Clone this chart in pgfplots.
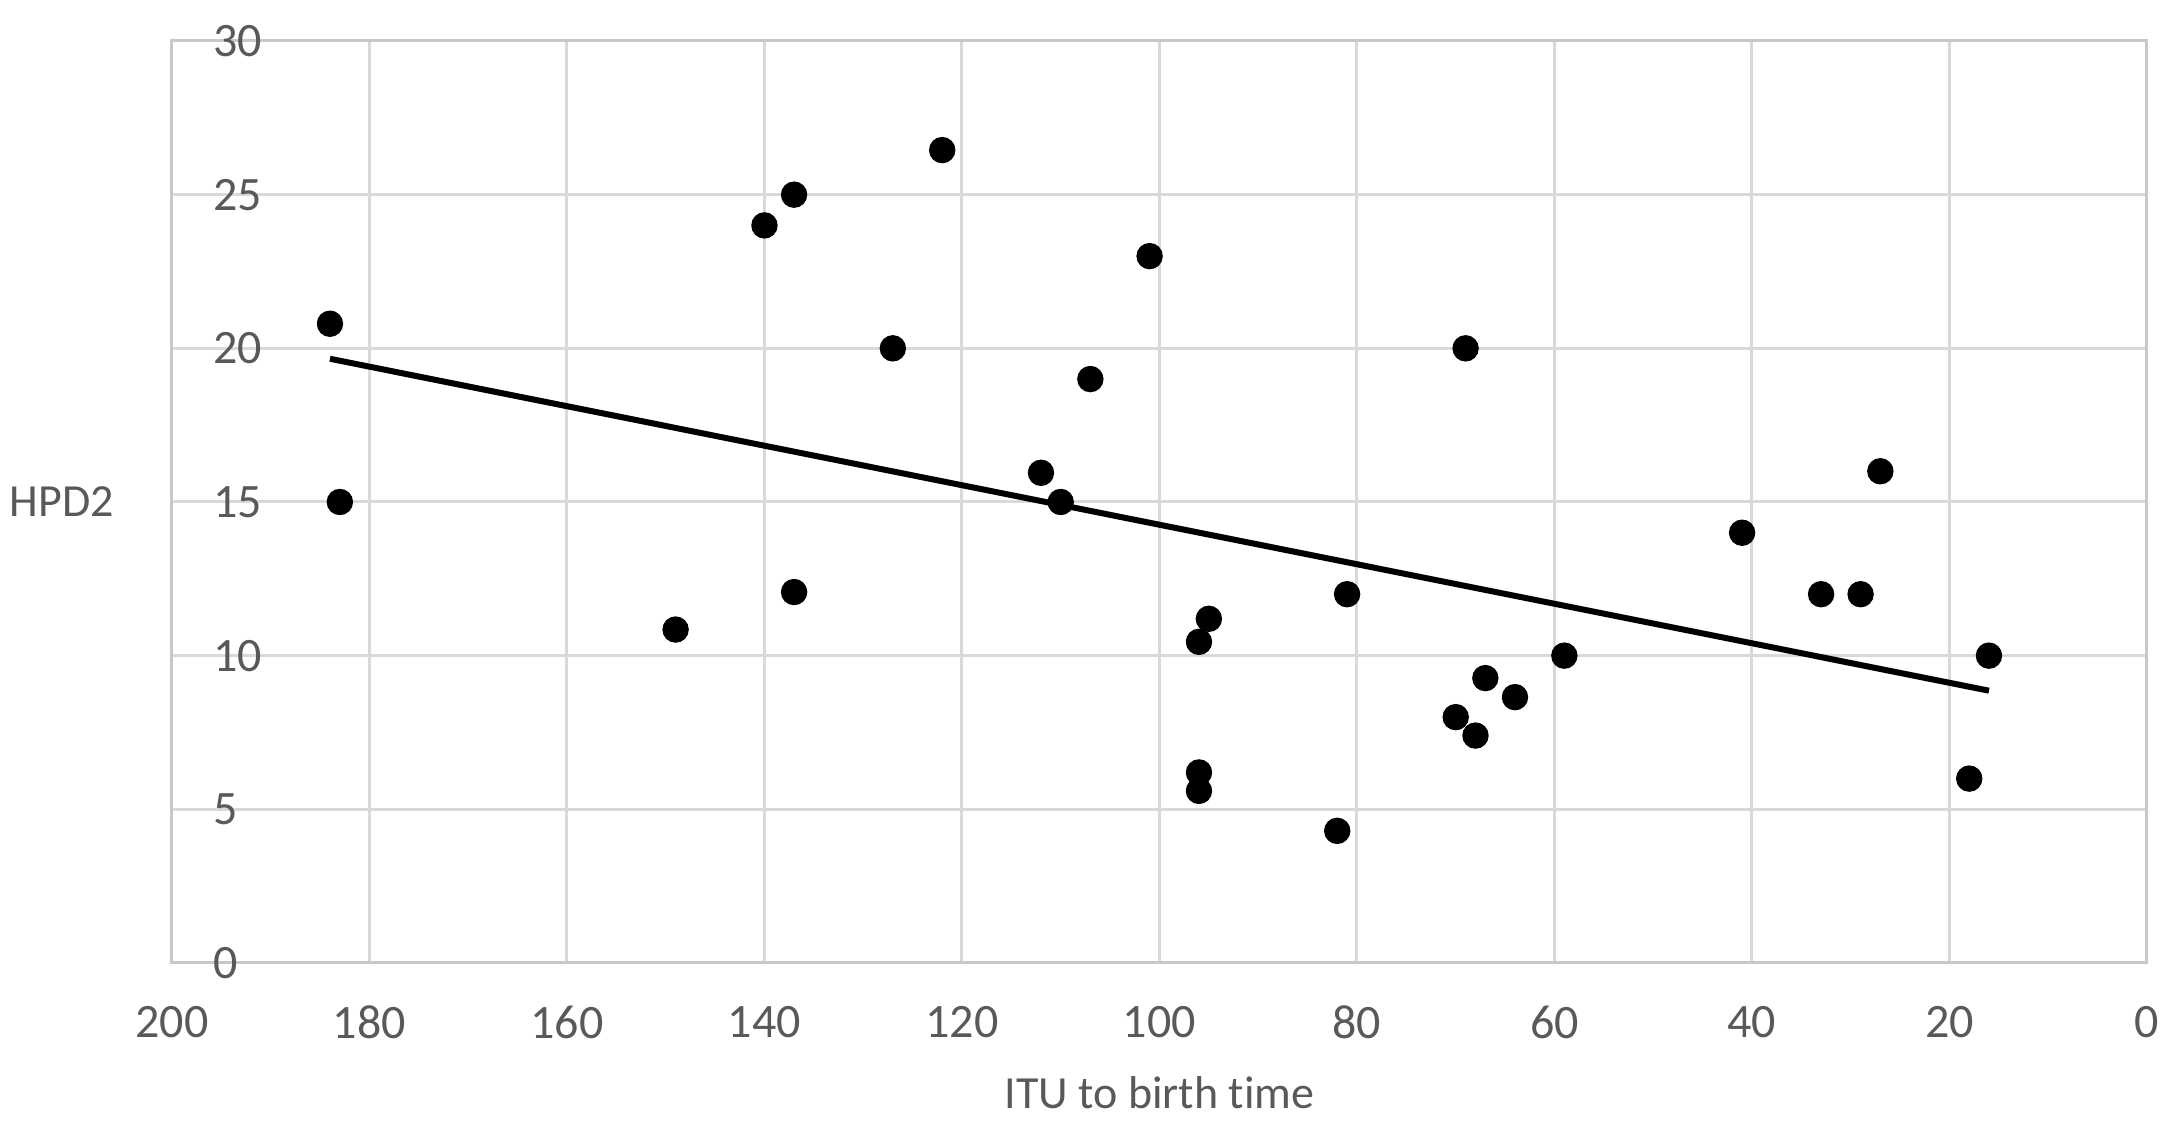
\documentclass[border=0pt]{standalone}
\usepackage{fontspec}
\setmainfont{Carlito}[Ligatures={NoCommon}]
\usepackage{pgfplots}
\pgfplotsset{compat=1.18}
\definecolor{gridc}{HTML}{D9D9D9}
\definecolor{axc}{HTML}{C8C8C8}
\definecolor{txt}{HTML}{595959}
\begin{document}
\begin{tikzpicture}
\useasboundingbox (-43pt,-40.25pt) rectangle (501.25pt,240.75pt);
\begin{axis}[
  scale only axis, width=493.75pt, height=230.5pt,
  x dir=reverse, xmin=0, xmax=200, ymin=0, ymax=30,
  xtick={0,20,...,200}, ytick={0,5,...,30},
  grid=major, major grid style={draw=gridc, line width=0.75pt},
  axis line style={draw=axc, line width=0.75pt},
  major tick length=0pt, tick style={draw=none},
  /pgf/number format/assume math mode=true,
  tick label style={font=\fontsize{12}{14}\selectfont, text=txt},
  yticklabel style={anchor=west, inner sep=0pt, xshift=10.2pt},
  xticklabel style={anchor=center, yshift=-14.75pt},
  xlabel={ITU to birth time}, ylabel={HPD2},
  label style={font=\fontsize{11.5}{14}\selectfont, text=txt},
  xlabel style={at={(axis description cs:0.5,0)}, anchor=center, yshift=-32.5pt},
  ylabel style={at={(axis description cs:0,0.5)}, rotate=-90, anchor=center, xshift=-27.5pt},
  clip=false,
]
\addplot[only marks, mark=*, mark size=3.1pt, black] coordinates {
(184,20.8) (183,15) (149,10.85) (140,24) (137,25) (137,12.07)
(127,20) (122,26.45) (112,15.95) (110,15) (107,19) (101,23)
(96,10.45) (95,11.2) (96,6.2) (96,5.6) (82,4.3) (81,12)
(70,8) (69,20) (68,7.4) (67,9.27) (64,8.65) (59,10)
(41,14) (33,12) (29,12) (27,16) (18,6) (16,10)
};
\addplot[black, line width=1.5pt] coordinates {(184,19.66) (16,8.86)};
\end{axis}
\end{tikzpicture}
\end{document}
